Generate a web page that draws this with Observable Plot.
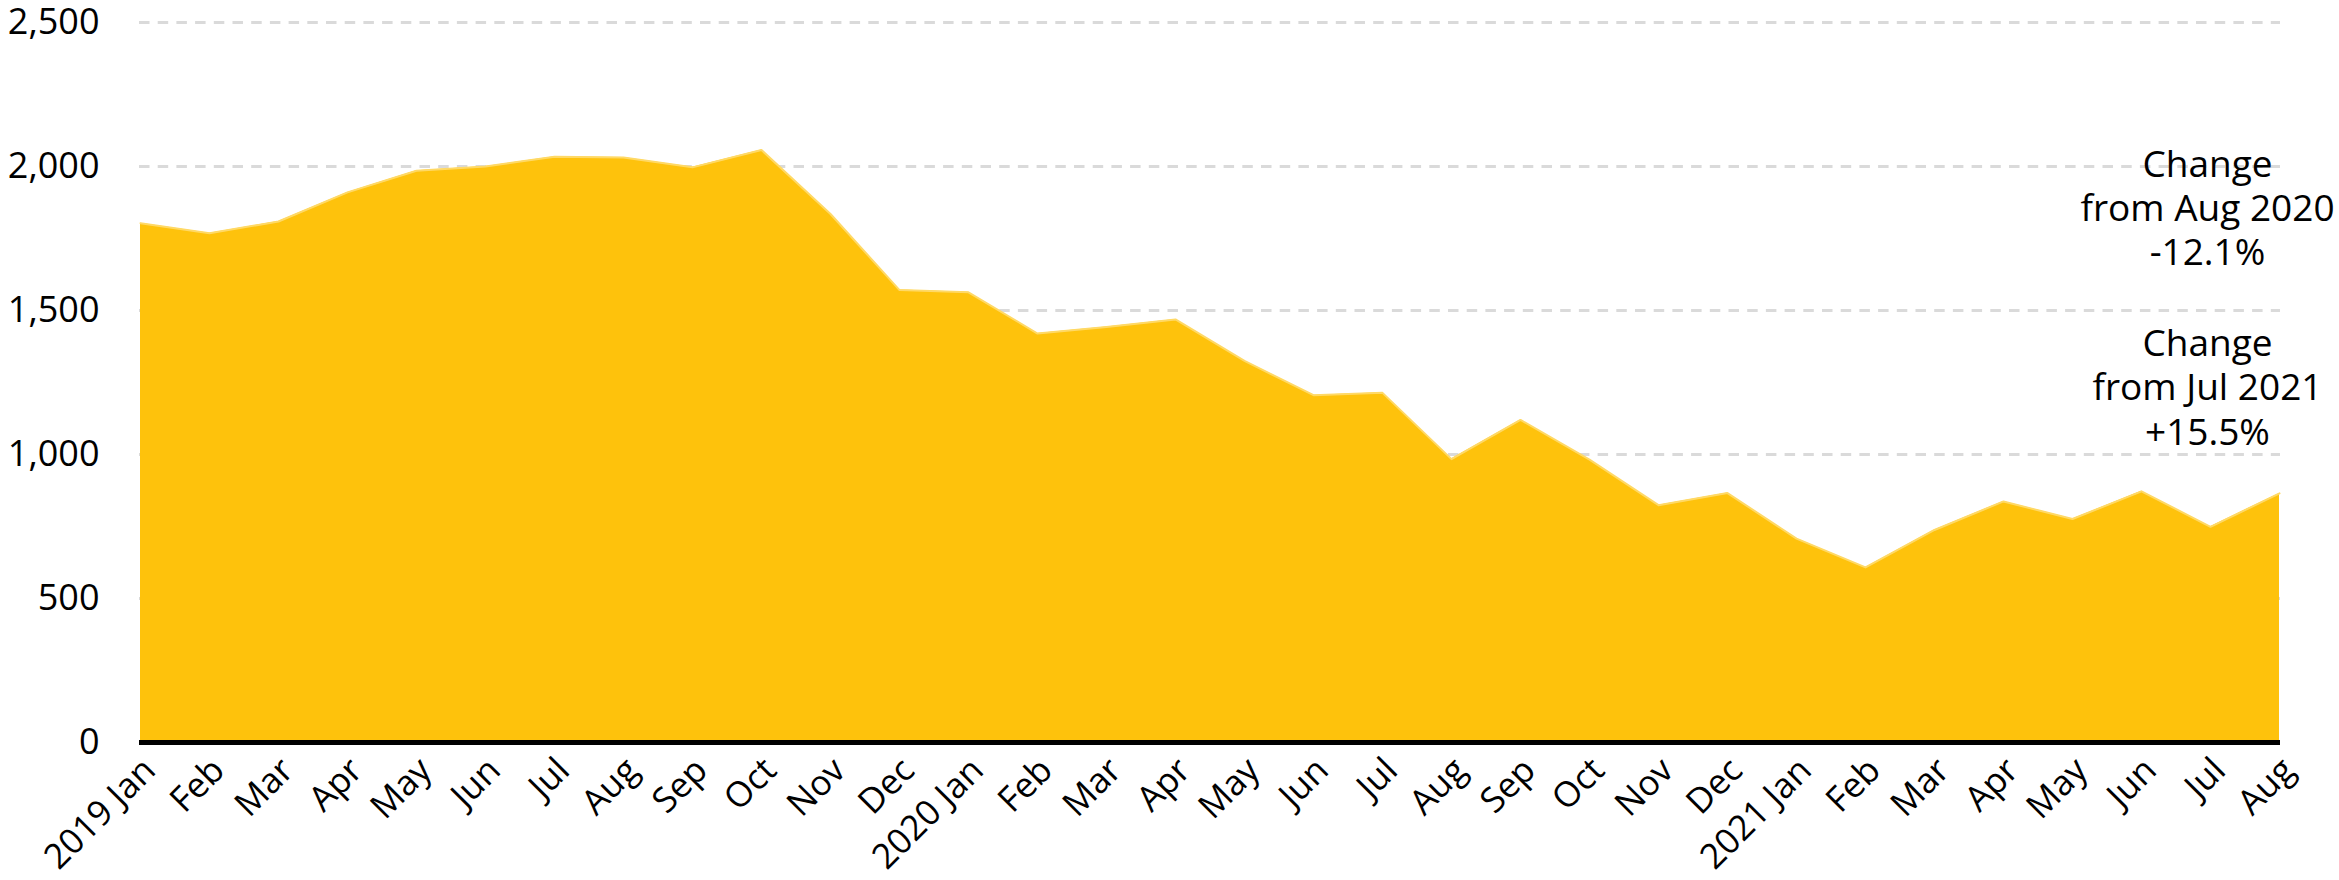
<!DOCTYPE html>
<html>
<head>
<meta charset="utf-8">
<script src="https://cdn.jsdelivr.net/npm/d3@7"></script>
<script src="https://cdn.jsdelivr.net/npm/@observablehq/plot@0.6"></script>
<style>
  html, body { margin: 0; padding: 0; background: #fff; }
  #chart svg { display: block; font-family: "Open Sans", sans-serif; }
</style>
</head>
<body>
<div id="chart"></div>
<script>
// Month tick labels (x categories)
const monthLabels = [
  "2019 Jan","Feb","Mar","Apr","May","Jun","Jul","Aug","Sep","Oct","Nov","Dec",
  "2020 Jan","Feb","Mar","Apr","May","Jun","Jul","Aug","Sep","Oct","Nov","Dec",
  "2021 Jan","Feb","Mar","Apr","May","Jun","Jul","Aug"
];
// Series values
const values = [
  1803, 1768, 1809, 1910, 1985, 2000, 2034, 2031, 1997, 2057, 1835, 1571,
  1563, 1420, 1443, 1469, 1325, 1206, 1214, 984, 1120, 982, 824, 866,
  708, 608, 738, 837, 776, 872, 749, 865
];
// Y axis ticks
const yTicks = [0, 500, 1000, 1500, 2000, 2500];
// Annotation texts and their value-axis anchors
const annotationTexts = ["Change\nfrom Aug 2020\n-12.1%", "Change\nfrom Jul 2021\n+15.5%"];
const annotationY = [1860, 1237];

const data = values.map((v, i) => ({i, v}));
const annotations = annotationTexts.map((text, k) => ({text, y: annotationY[k], i: values.length - 1}));

const chart = Plot.plot({
  width: 2339,
  height: 880,
  marginTop: 22,
  marginBottom: 138,
  marginLeft: 139,
  marginRight: 59,
  style: {fontFamily: "Open Sans, sans-serif", color: "#000", background: "#fff"},
  x: {type: "point", domain: d3.range(values.length), padding: 0},
  y: {domain: [0, 2500]},
  marks: [
    Plot.ruleY(yTicks.filter(d => d > 0), {stroke: "#dadada", strokeWidth: 3, strokeDasharray: "10.5,8.2"}),
    Plot.areaY(data, {x: "i", y: "v", fill: "#FEC20C"}),
    Plot.lineY(data, {x: "i", y: "v", stroke: "#FFD966", strokeWidth: 2}),
    Plot.ruleY([0], {stroke: "#000", strokeWidth: 5}),
    Plot.axisY({ticks: yTicks, tickFormat: d3.format(","), tickSize: 0, tickPadding: 40, fontSize: 36, label: null}),
    Plot.axisX({tickFormat: i => monthLabels[i], tickRotate: -45, tickSize: 0, tickPadding: 22, dx: 9, fontSize: 35, label: null}),
    Plot.text(annotations, {x: "i", y: "y", text: "text", dx: -72, fontSize: 37, lineHeight: 1.2, textAnchor: "middle", fill: "#000"})
  ]
});
document.getElementById("chart").appendChild(chart);
</script>
</body>
</html>
